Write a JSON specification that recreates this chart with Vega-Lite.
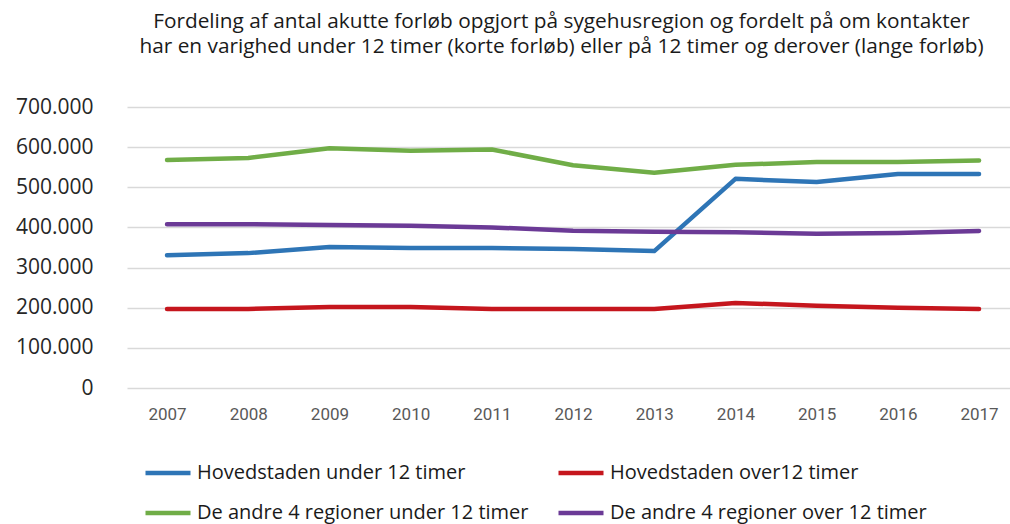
{
  "$schema": "https://vega.github.io/schema/vega-lite/v6.json",
  "autosize": "none",
  "width": 883,
  "height": 281,
  "padding": {"left": 127, "top": 107, "right": 0, "bottom": 136},
  "background": "white",
  "title": {
    "text": ["Fordeling af antal akutte forløb opgjort på sygehusregion og fordelt på om kontakter", "har en varighed under 12 timer (korte forløb) eller på 12 timer og derover (lange forløb)"],
    "anchor": "middle",
    "font": "Open Sans",
    "fontSize": 20.8,
    "fontWeight": "normal",
    "color": "#1a1a1a",
    "lineHeight": 25.5,
    "offset": 38,
    "dx": -7
  },
  "data": {
    "values": [
      {"year": 2007, "serie": "Hovedstaden under 12 timer", "value": 331000},
      {"year": 2008, "serie": "Hovedstaden under 12 timer", "value": 336000},
      {"year": 2009, "serie": "Hovedstaden under 12 timer", "value": 351000},
      {"year": 2010, "serie": "Hovedstaden under 12 timer", "value": 349000},
      {"year": 2011, "serie": "Hovedstaden under 12 timer", "value": 349000},
      {"year": 2012, "serie": "Hovedstaden under 12 timer", "value": 346000},
      {"year": 2013, "serie": "Hovedstaden under 12 timer", "value": 341000},
      {"year": 2014, "serie": "Hovedstaden under 12 timer", "value": 521000},
      {"year": 2015, "serie": "Hovedstaden under 12 timer", "value": 513000},
      {"year": 2016, "serie": "Hovedstaden under 12 timer", "value": 533000},
      {"year": 2017, "serie": "Hovedstaden under 12 timer", "value": 533000},
      {"year": 2007, "serie": "Hovedstaden over12 timer", "value": 197000},
      {"year": 2008, "serie": "Hovedstaden over12 timer", "value": 197000},
      {"year": 2009, "serie": "Hovedstaden over12 timer", "value": 202000},
      {"year": 2010, "serie": "Hovedstaden over12 timer", "value": 202000},
      {"year": 2011, "serie": "Hovedstaden over12 timer", "value": 197000},
      {"year": 2012, "serie": "Hovedstaden over12 timer", "value": 197000},
      {"year": 2013, "serie": "Hovedstaden over12 timer", "value": 197000},
      {"year": 2014, "serie": "Hovedstaden over12 timer", "value": 212000},
      {"year": 2015, "serie": "Hovedstaden over12 timer", "value": 205000},
      {"year": 2016, "serie": "Hovedstaden over12 timer", "value": 200000},
      {"year": 2017, "serie": "Hovedstaden over12 timer", "value": 197000},
      {"year": 2007, "serie": "De andre 4 regioner under 12 timer", "value": 568000},
      {"year": 2008, "serie": "De andre 4 regioner under 12 timer", "value": 573000},
      {"year": 2009, "serie": "De andre 4 regioner under 12 timer", "value": 597000},
      {"year": 2010, "serie": "De andre 4 regioner under 12 timer", "value": 591000},
      {"year": 2011, "serie": "De andre 4 regioner under 12 timer", "value": 594000},
      {"year": 2012, "serie": "De andre 4 regioner under 12 timer", "value": 555000},
      {"year": 2013, "serie": "De andre 4 regioner under 12 timer", "value": 536000},
      {"year": 2014, "serie": "De andre 4 regioner under 12 timer", "value": 556000},
      {"year": 2015, "serie": "De andre 4 regioner under 12 timer", "value": 563000},
      {"year": 2016, "serie": "De andre 4 regioner under 12 timer", "value": 563000},
      {"year": 2017, "serie": "De andre 4 regioner under 12 timer", "value": 567000},
      {"year": 2007, "serie": "De andre 4 regioner over 12 timer", "value": 408000},
      {"year": 2008, "serie": "De andre 4 regioner over 12 timer", "value": 408000},
      {"year": 2009, "serie": "De andre 4 regioner over 12 timer", "value": 406000},
      {"year": 2010, "serie": "De andre 4 regioner over 12 timer", "value": 404000},
      {"year": 2011, "serie": "De andre 4 regioner over 12 timer", "value": 400000},
      {"year": 2012, "serie": "De andre 4 regioner over 12 timer", "value": 392000},
      {"year": 2013, "serie": "De andre 4 regioner over 12 timer", "value": 389000},
      {"year": 2014, "serie": "De andre 4 regioner over 12 timer", "value": 388000},
      {"year": 2015, "serie": "De andre 4 regioner over 12 timer", "value": 384000},
      {"year": 2016, "serie": "De andre 4 regioner over 12 timer", "value": 386000},
      {"year": 2017, "serie": "De andre 4 regioner over 12 timer", "value": 391000}
    ]
  },
  "mark": {"type": "line", "strokeWidth": 4.5, "strokeCap": "round", "strokeJoin": "round"},
  "encoding": {
    "x": {
      "field": "year",
      "type": "quantitative",
      "scale": {"domain": [2006.507, 2017.381], "nice": false, "zero": false},
      "axis": {
        "title": null,
        "values": [2007, 2008, 2009, 2010, 2011, 2012, 2013, 2014, 2015, 2016, 2017],
        "format": "d",
        "grid": false,
        "domain": false,
        "ticks": false,
        "labelFont": "Roboto",
        "labelFontSize": 17,
        "labelColor": "#595959",
        "labelPadding": 18,
        "labelFlush": false,
        "labelOverlap": false
      }
    },
    "y": {
      "field": "value",
      "type": "quantitative",
      "scale": {"domain": [0, 700000], "nice": false},
      "axis": {
        "title": null,
        "values": [0, 100000, 200000, 300000, 400000, 500000, 600000, 700000],
        "format": ",d",
        "labelExpr": "replace(datum.label, /,/g, '.')",
        "domain": false,
        "ticks": false,
        "gridColor": "#d9d9d9",
        "gridWidth": 1.3,
        "labelFont": "Open Sans",
        "labelFontSize": 21,
        "labelColor": "#262626",
        "labelPadding": 34
      }
    },
    "color": {
      "field": "serie",
      "type": "nominal",
      "scale": {
        "domain": ["Hovedstaden under 12 timer", "Hovedstaden over12 timer", "De andre 4 regioner under 12 timer", "De andre 4 regioner over 12 timer"],
        "range": ["#2E75B6", "#C5161D", "#70AD47", "#6B3A96"]
      },
      "legend": {
        "title": null,
        "orient": "none",
        "direction": "horizontal",
        "legendX": 16,
        "legendY": 341,
        "columns": 2,
        "columnPadding": 20,
        "rowPadding": 5,
        "symbolType": "stroke",
        "symbolSize": 2025,
        "symbolStrokeWidth": 4.5,
        "labelFont": "Open Sans",
        "labelFontSize": 20,
        "labelColor": "#1a1a1a",
        "labelOffset": 4,
        "labelLimit": 500
      }
    }
  },
  "config": {"view": {"stroke": null}}
}
